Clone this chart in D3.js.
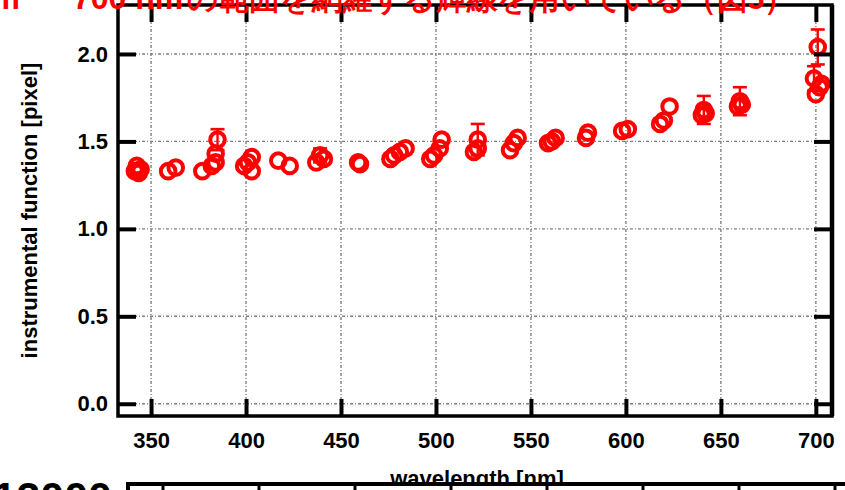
<!DOCTYPE html>
<html>
<head>
<meta charset="utf-8">
<script src="https://cdn.jsdelivr.net/npm/d3@7"></script>
<style>
  body { margin: 0; background: #fff; }
  svg text { font-family: "Liberation Sans", Arial, sans-serif; font-weight: bold; }
</style>
</head>
<body>
<svg id="chart" width="845" height="490"></svg>
<script>
// measured points: wavelength [nm], instrumental function [pixel], error (0 = no bar)
const wavelength = [341.5, 342.5, 343.5, 344.5, 359, 363, 377, 382, 384, 384, 385,
  399, 401, 403, 403, 417, 423, 437, 439, 441, 459, 460, 476, 478, 481, 484,
  497, 499, 502, 503, 520, 522, 522, 539, 541, 543, 559, 561, 563, 579, 580,
  598, 601, 618, 620, 623, 640, 641, 642, 659, 660, 661, 701, 699, 700, 703, 702];
const instrFunc = [1.33, 1.36, 1.32, 1.34, 1.33, 1.35, 1.33, 1.36, 1.38, 1.43, 1.51,
  1.36, 1.38, 1.33, 1.41, 1.39, 1.36, 1.38, 1.42, 1.40, 1.38, 1.37, 1.40, 1.42, 1.44, 1.46,
  1.40, 1.42, 1.46, 1.51, 1.44, 1.46, 1.51, 1.45, 1.49, 1.52, 1.49, 1.50, 1.52, 1.52, 1.55,
  1.56, 1.57, 1.60, 1.62, 1.70, 1.65, 1.68, 1.66, 1.70, 1.73, 1.71, 2.04, 1.86, 1.77, 1.83, 1.81];
const errBar = [0, 0, 0, 0, 0, 0, 0, 0, 0, 0, 0.06,
  0, 0, 0, 0, 0, 0, 0, 0.04, 0, 0, 0, 0, 0, 0, 0,
  0, 0, 0, 0, 0, 0, 0.09, 0, 0, 0, 0, 0, 0, 0, 0,
  0, 0, 0, 0, 0, 0, 0.08, 0, 0, 0.08, 0, 0.10, 0.07, 0, 0, 0];

const xTicks = [350, 400, 450, 500, 550, 600, 650, 700];
const yTicks = [0.0, 0.5, 1.0, 1.5, 2.0];

const svg = d3.select("#chart");
const plotLeft = 118, plotRight = 832, plotTop = 5, plotBottom = 416;

const x = d3.scaleLinear().domain([332.6, 708.5]).range([plotLeft, plotRight]);
const y = d3.scaleLinear().domain([-0.07, 2.28]).range([plotBottom, plotTop]);

svg.append("rect").attr("width", 845).attr("height", 490).attr("fill", "#fff");

// grid
const grid = svg.append("g")
  .attr("stroke", "#808080")
  .attr("stroke-width", 1.4)
  .attr("stroke-dasharray", "3,2,1,2");
grid.selectAll(".gx").data(xTicks).enter().append("line")
  .attr("x1", d => x(d)).attr("x2", d => x(d))
  .attr("y1", plotTop).attr("y2", plotBottom);
grid.selectAll(".gy").data(yTicks).enter().append("line")
  .attr("x1", plotLeft).attr("x2", plotRight)
  .attr("y1", d => y(d)).attr("y2", d => y(d));

// points
const pts = d3.range(wavelength.length).map(i => ({ w: wavelength[i], v: instrFunc[i], e: errBar[i] }));
const marks = svg.append("g").attr("stroke", "#ff0000").attr("fill", "none");

const withErr = pts.filter(d => d.e > 0);
marks.selectAll(".eb").data(withErr).enter().append("line")
  .attr("x1", d => x(d.w)).attr("x2", d => x(d.w))
  .attr("y1", d => y(d.v + d.e)).attr("y2", d => y(d.v - d.e))
  .attr("stroke-width", 2.4);
[1, -1].forEach(s => {
  marks.selectAll(".cap" + s).data(withErr).enter().append("line")
    .attr("x1", d => x(d.w) - 7).attr("x2", d => x(d.w) + 7)
    .attr("y1", d => y(d.v + s * d.e)).attr("y2", d => y(d.v + s * d.e))
    .attr("stroke-width", 2.6);
});

marks.selectAll("circle").data(pts).enter().append("circle")
  .attr("cx", d => x(d.w)).attr("cy", d => y(d.v))
  .attr("r", 7.3)
  .attr("stroke-width", 4);

// axes
function styleAxis(g) {
  g.select(".domain").remove();
  g.selectAll(".tick line").attr("stroke", "#000").attr("stroke-width", 4);
  g.selectAll(".tick text").attr("fill", "#000").style("font-size", "22px");
}

svg.append("g").attr("transform", `translate(0,${plotBottom})`)
  .call(d3.axisBottom(x).tickValues(xTicks).tickSize(-17).tickPadding(16).tickFormat(d3.format("d")))
  .call(styleAxis);
svg.append("g").attr("transform", `translate(0,${plotTop})`)
  .call(d3.axisTop(x).tickValues(xTicks).tickSize(-17).tickFormat(""))
  .call(styleAxis);
svg.append("g").attr("transform", `translate(${plotLeft},0)`)
  .call(d3.axisLeft(y).tickValues(yTicks).tickSize(-18).tickPadding(10).tickFormat(d3.format(".1f")))
  .call(styleAxis);
svg.append("g").attr("transform", `translate(${plotRight},0)`)
  .call(d3.axisRight(y).tickValues(yTicks).tickSize(-18).tickFormat(""))
  .call(styleAxis);

// frame
svg.append("rect")
  .attr("x", plotLeft).attr("y", plotTop)
  .attr("width", plotRight - plotLeft).attr("height", plotBottom - plotTop)
  .attr("fill", "none").attr("stroke", "#000").attr("stroke-width", 3.5);
svg.append("line").attr("x1", plotRight).attr("x2", plotRight).attr("y1", plotTop).attr("y2", plotBottom)
  .attr("stroke", "#000").attr("stroke-width", 4.5);

// axis titles
svg.append("text")
  .attr("transform", `translate(37,${(plotTop + plotBottom) / 2}) rotate(-90)`)
  .attr("text-anchor", "middle")
  .style("font-size", "22px")
  .text("instrumental function [pixel]");

svg.append("text")
  .attr("x", 477).attr("y", 486)
  .attr("text-anchor", "middle")
  .style("font-size", "22px")
  .text("wavelength [nm]");

// red caption, mostly above the top edge
const caption = svg.append("g")
  .attr("fill", "#ff0000")
  .style("font-family", "'Liberation Serif', 'Noto Sans CJK JP', serif")
  .style("font-size", "32px");
caption.append("text").attr("x", 20).attr("y", 9).attr("text-anchor", "end").text("nm");
caption.append("text").attr("x", 73).attr("y", 9).text("700 nm");
caption.append("text").attr("x", 187).attr("y", 9)
  .attr("textLength", 608).attr("lengthAdjust", "spacingAndGlyphs")
  .text("の範囲を網羅する輝線を用いている（図5）");

// next panel, partly visible below
const x2 = d3.scaleLinear().domain([350, 700]).range([163, 835]);
svg.append("rect").attr("x", 128).attr("y", 484).attr("width", 717).attr("height", 6).attr("fill", "#fff");
svg.append("line").attr("x1", 128).attr("x2", 845).attr("y1", 484).attr("y2", 484)
  .attr("stroke", "#000").attr("stroke-width", 4);
svg.append("line").attr("x1", 128).attr("x2", 128).attr("y1", 482).attr("y2", 490)
  .attr("stroke", "#000").attr("stroke-width", 4);
svg.append("g").selectAll("line").data(xTicks).enter().append("line")
  .attr("x1", d => x2(d)).attr("x2", d => x2(d))
  .attr("y1", 484).attr("y2", 492)
  .attr("stroke", "#000").attr("stroke-width", 3);

svg.append("text")
  .attr("x", 112).attr("y", 512)
  .attr("text-anchor", "end")
  .style("font-size", "43px")
  .text("12000");
</script>
</body>
</html>
